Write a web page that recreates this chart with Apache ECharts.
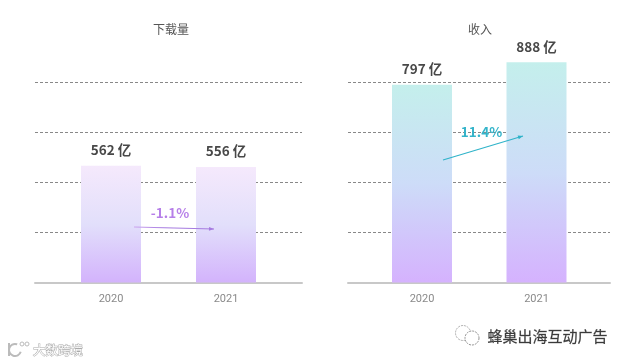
<!DOCTYPE html>
<html>
<head>
<meta charset="utf-8">
<style>html,body{margin:0;padding:0;background:#fff}#c{width:626px;height:363px}</style>
<script src="https://cdn.jsdelivr.net/npm/echarts@6/dist/echarts.min.js"></script>
</head>
<body>
<div id="c"></div>
<script>
const categories = ['2020', '2021'];
const downloads = [562, 556];
const revenue = [797, 888];
const panelTitles = ['下载量', '收入'];
const changeLabels = ['-1.1%', '11.4%'];
const unit = ' 亿';
const watermarkLeft = '大数跨境';
const watermarkRight = '蜂巢出海互动广告';

const FONT = '"Noto Sans CJK SC","Noto Sans",sans-serif';
const vgrad = (stops) => new echarts.graphic.LinearGradient(0, 0, 0, 1, stops);
const purple = () => vgrad([{offset:0,color:'#f5e9fc'},{offset:0.5,color:'#e2dffb'},{offset:1,color:'#d3b3fc'}]);
const teal = () => vgrad([{offset:0,color:'#c4efec'},{offset:0.5,color:'#cddcf8'},{offset:1,color:'#d5b2fe'}]);

const TOP = 32, H = 250.5;
const grids = [
  {left:35, width:267, top:TOP, height:H},
  {left:53.5, width:230, top:TOP, height:H},
  {left:348, width:262, top:TOP, height:H},
  {left:364.75, width:229, top:TOP, height:H}
];
const bgX = (i) => ({type:'category', gridIndex:i, data:categories, axisTick:{show:false}, axisLabel:{show:false},
  axisLine:{show:true, lineStyle:{color:'#c8c8c8', width:2}}});
const fgX = (i) => ({type:'category', gridIndex:i, data:categories, axisTick:{show:false},
  axisLine:{show:false}, axisLabel:{color:'#8a8a8a', fontSize:11, margin:11, fontFamily:'Roboto'}});
const bgY = (i, max, iv) => ({type:'value', gridIndex:i, min:0, max, interval:iv, axisLabel:{show:false}, axisLine:{show:false}, axisTick:{show:false},
  splitLine:{show:true, showMaxLine:false, showMinLine:false, lineStyle:{color:'#888', type:[3,2], width:1}}});
const fgY = (i, max) => ({type:'value', gridIndex:i, min:0, max, axisLabel:{show:false}, axisLine:{show:false}, axisTick:{show:false}, splitLine:{show:false}});
const bar = (i, data, color) => ({type:'bar', xAxisIndex:i, yAxisIndex:i, data, barWidth:60, itemStyle:{color},
  label:{show:true, position:'top', distance:9, formatter:(p)=>p.value+unit, color:'#484848', fontSize:13.5, fontWeight:'bold', fontFamily:FONT}});

const arrow = (x1,y1,x2,y2,stops,tip) => {
  const a = Math.atan2(y2-y1,x2-x1), s = 5, w = 2;
  const bx = x2 - s*Math.cos(a), by = y2 - s*Math.sin(a);
  return [
    {type:'line', silent:true, z:10, shape:{x1,y1,x2,y2}, style:{lineWidth:1.2, stroke:new echarts.graphic.LinearGradient(0,0,1,0,stops)}},
    {type:'polygon', silent:true, z:10, shape:{points:[[x2,y2],[bx-w*Math.sin(a),by+w*Math.cos(a)],[bx+w*Math.sin(a),by-w*Math.cos(a)]]}, style:{fill:tip}}
  ];
};

const option = {
  animation:false,
  backgroundColor:'#fff',
  title:[
    {text:panelTitles[0], left:148, top:18, textStyle:{fontSize:12, fontWeight:'normal', color:'#555', fontFamily:FONT}},
    {text:panelTitles[1], left:463, top:18, textStyle:{fontSize:12, fontWeight:'normal', color:'#555', fontFamily:FONT}}
  ],
  grid:grids,
  xAxis:[bgX(0), fgX(1), bgX(2), fgX(3)],
  yAxis:[bgY(0,1190,238), fgY(1,1205), bgY(2,1000,200), fgY(3,1010)],
  series:[bar(1,downloads,purple()), bar(3,revenue,teal())],
  graphic:[
    ...arrow(134,227,214,229,[{offset:0,color:'#cfa8f0'},{offset:0.4,color:'#a67be0'},{offset:1,color:'#a67be0'}],'#a67be0'),
    ...arrow(443,160,523,136,[{offset:0,color:'#2fb3c9'},{offset:1,color:'#2fb3c9'}],'#2fb3c9'),
    {type:'text', z:11, silent:true, x:170, y:213, style:{text:changeLabels[0], align:'center', verticalAlign:'middle', fill:'#b67fe8', font:'bold 13.5px '+FONT}},
    {type:'text', z:11, silent:true, x:481.5, y:132, style:{text:changeLabels[1], align:'center', verticalAlign:'middle', fill:'#34b4ca', font:'bold 13.5px '+FONT}},
    {type:'text', z:11, silent:true, x:58, y:350.5, style:{text:watermarkLeft, align:'center', verticalAlign:'middle', fill:'#fff', stroke:'#aaa', lineWidth:1, font:'12.5px '+FONT}},
    {type:'arc', z:11, silent:true, shape:{cx:15,cy:350,r:6,startAngle:0.3,endAngle:-1.2,clockwise:true}, style:{fill:'none', stroke:'#bbb', lineWidth:2}},
    {type:'line', z:11, silent:true, shape:{x1:9,y1:343,x2:9,y2:356}, style:{stroke:'#bbb', lineWidth:2}},
    {type:'circle', z:11, silent:true, shape:{cx:22,cy:344,r:2}, style:{fill:'#fff', stroke:'#bbb', lineWidth:1}},
    {type:'circle', z:11, silent:true, shape:{cx:27,cy:344,r:2}, style:{fill:'#fff', stroke:'#bbb', lineWidth:1}},
    {type:'text', z:11, silent:true, x:547.5, y:336, style:{text:watermarkRight, align:'center', verticalAlign:'middle', fill:'#3a3a3a', stroke:'#777', lineWidth:0.3, font:'15px '+FONT}},
    {type:'circle', z:11, silent:true, shape:{cx:463,cy:333,r:7.5}, style:{fill:'#fff', stroke:'#999', lineWidth:0.8, lineDash:[2,1]}},
    {type:'circle', z:11, silent:true, shape:{cx:472,cy:338,r:7}, style:{fill:'#fff', stroke:'#777', lineWidth:0.8, lineDash:[2,1]}}
  ]
};
echarts.init(document.getElementById('c')).setOption(option);
</script>
</body>
</html>
